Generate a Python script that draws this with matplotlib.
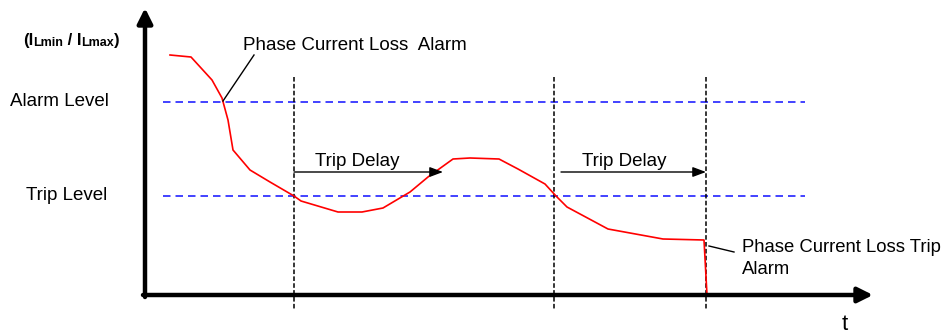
import matplotlib.pyplot as plt

plt.rcParams['font.family'] = ['Liberation Sans', 'DejaVu Sans']

# Current ratio curve (time, level), screen-like units: y grows downward
t = [170, 191, 212, 222, 228, 233, 250, 270, 294, 301, 338, 362, 383, 410,
     428, 453, 470, 499, 518, 545, 556, 567, 608, 663, 704, 707]
level = [55, 57, 80, 98, 120, 150, 170, 182, 196, 201, 212, 212, 208, 192,
         177, 159, 158, 159, 169, 184, 196, 207, 229, 239, 240, 295]

alarm_level = 102
trip_level = 196
event_times = [294, 554, 706]
trip_delays = [(294, 443), (561, 706)]

fig = plt.figure(figsize=(9.48, 3.35), dpi=100)
ax = fig.add_axes([0, 0, 1, 1])
ax.set_xlim(0, 948)
ax.set_ylim(335, 0)
ax.axis('off')

# threshold levels
for lv in [alarm_level, trip_level]:
    ax.plot([163, 805], [lv, lv], color='#2222ff', lw=1.2,
            linestyle=(0, (4.5, 3)))

# event markers
for x in event_times:
    ax.plot([x, x], [77, 309], color='k', lw=1.1, linestyle=(0, (3, 1.5)))

# the measured curve
ax.plot(t, level, color='red', lw=1.2)

# axes with arrow heads
ax.annotate('', xy=(145, 8), xytext=(145, 297),
            arrowprops=dict(arrowstyle='-|>,head_length=0.9,head_width=0.45',
                            lw=3.2, color='k', shrinkA=0, shrinkB=0))
ax.annotate('', xy=(873, 295), xytext=(143, 295),
            arrowprops=dict(arrowstyle='-|>,head_length=0.9,head_width=0.45',
                            lw=3.2, color='k', shrinkA=0, shrinkB=0))

# trip delay arrows
for x0, x1 in trip_delays:
    ax.annotate('', xy=(x1, 172), xytext=(x0, 172),
                arrowprops=dict(arrowstyle='-|>,head_length=0.8,head_width=0.3',
                                lw=1.0, color='k', shrinkA=0, shrinkB=0))
    ax.text(x0 + 21, 162, 'Trip Delay', fontsize=13.5, va='center', ha='left')

# labels
ax.text(10, 102, 'Alarm Level', fontsize=13.5, va='center', ha='left')
ax.text(26, 196, 'Trip Level', fontsize=13.5, va='center', ha='left')
ax.text(845, 325, 't', fontsize=16, va='center', ha='center')

# y-axis quantity: bold text pieces with small subscripts, laid out one after another
renderer = fig.canvas.get_renderer()
pieces = [('(I', 12, 0), ('Lmin', 9, 1.5), (' / I', 12, 0),
          ('Lmax', 9, 1.5), (')', 12, 0)]
x_px = 23
for s, size, drop in pieces:
    txt = fig.text(x_px / 948, 1 - (45 + drop) / 335, s, fontsize=size,
                   fontweight='bold', va='baseline', ha='left')
    x_px += txt.get_window_extent(renderer).width

# annotations
ax.plot([223, 254], [101, 55], color='k', lw=1.0)
ax.text(243, 45, 'Phase Current Loss  Alarm', fontsize=13.5, va='center', ha='left')
ax.plot([709, 734], [246, 252], color='k', lw=1.0)
ax.text(742, 247, 'Phase Current Loss Trip', fontsize=13.3, va='center', ha='left')
ax.text(742, 270, 'Alarm', fontsize=13.3, va='center', ha='left')

fig.savefig('out.png', dpi=100)
